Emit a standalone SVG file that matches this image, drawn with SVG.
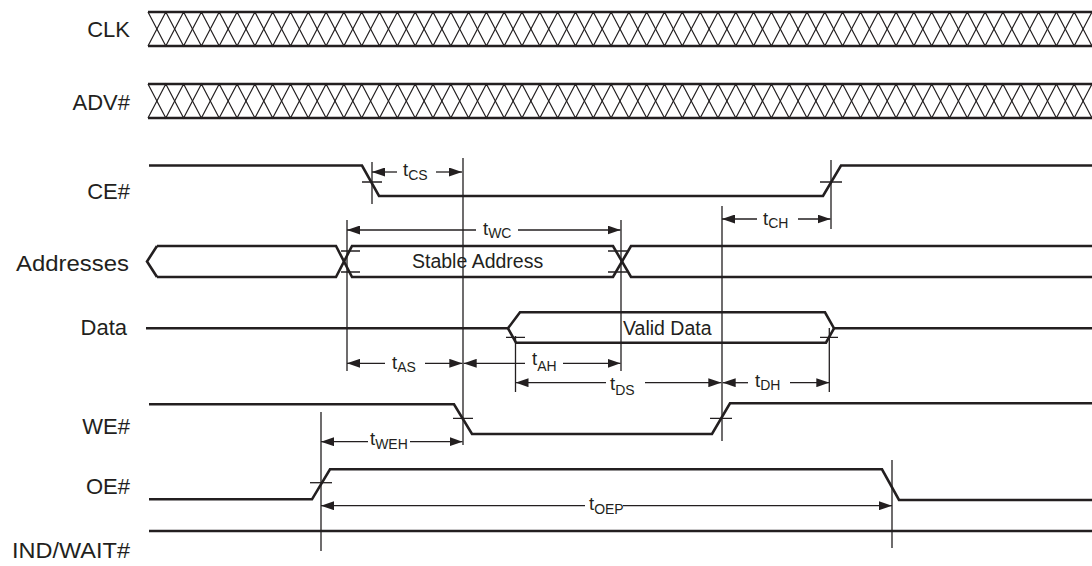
<svg xmlns="http://www.w3.org/2000/svg" xmlns:xlink="http://www.w3.org/1999/xlink" width="1092" height="566" viewBox="0 0 1092 566">
<style>
.sig{fill:none;stroke:#231f20;stroke-width:2.6;stroke-linejoin:miter}
.band{fill:none;stroke:#231f20;stroke-width:2.6}
.zz{fill:none;stroke:#231f20;stroke-width:1.2}
.thin{fill:none;stroke:#231f20;stroke-width:1.3}
.dim{fill:none;stroke:#231f20;stroke-width:1.3;marker-end:url(#ah)}
.lbl{font-family:"Liberation Sans",Arial,Helvetica,sans-serif;font-size:22px;fill:#231f20;text-anchor:end}
.in{font-family:"Liberation Sans",Arial,Helvetica,sans-serif;font-size:19.5px;fill:#231f20}
.t{font-family:"Liberation Sans",Arial,Helvetica,sans-serif;font-size:18.5px;fill:#231f20}
.s{font-size:14px}
</style>
<defs>
<marker id="ah" markerUnits="userSpaceOnUse" markerWidth="13" markerHeight="9" refX="13" refY="4.5" orient="auto">
<path d="M0,0 L13,4.5 L0,9 Z" fill="#231f20"/>
</marker>
<g id="xband">
<path class="band" d="M148,12 H1092 M148,46 H1092"/>
<polyline class="zz" points="148,12 165.8,46 183.6,12 201.4,46 219.2,12 237.1,46 254.9,12 272.7,46 290.5,12 308.3,46 326.1,12 343.9,46 361.7,12 379.5,46 397.4,12 415.2,46 433,12 450.8,46 468.6,12 486.4,46 504.2,12 522,46 539.8,12 557.7,46 575.5,12 593.3,46 611.1,12 628.9,46 646.7,12 664.5,46 682.3,12 700.2,46 718,12 735.8,46 753.6,12 771.4,46 789.2,12 807,46 824.8,12 842.6,46 860.5,12 878.3,46 896.1,12 913.9,46 931.7,12 949.5,46 967.3,12 985.1,46 1002.9,12 1020.8,46 1038.6,12 1056.4,46 1074.2,12 1092,46"/>
<polyline class="zz" points="148,46 165.8,12 183.6,46 201.4,12 219.2,46 237.1,12 254.9,46 272.7,12 290.5,46 308.3,12 326.1,46 343.9,12 361.7,46 379.5,12 397.4,46 415.2,12 433,46 450.8,12 468.6,46 486.4,12 504.2,46 522,12 539.8,46 557.7,12 575.5,46 593.3,12 611.1,46 628.9,12 646.7,46 664.5,12 682.3,46 700.2,12 718,46 735.8,12 753.6,46 771.4,12 789.2,46 807,12 824.8,46 842.6,12 860.5,46 878.3,12 896.1,46 913.9,12 931.7,46 949.5,12 967.3,46 985.1,12 1002.9,46 1020.8,12 1038.6,46 1056.4,12 1074.2,46 1092,12"/>
</g>
</defs>
<rect width="1092" height="566" fill="#ffffff"/>

<g id="clk">
<text class="lbl" x="130" y="37">CLK</text>
<use href="#xband" xlink:href="#xband"/>
</g>

<g id="adv">
<text class="lbl" x="130" y="110">ADV#</text>
<use href="#xband" xlink:href="#xband" transform="translate(0,72)"/>
</g>

<g id="ce">
<text class="lbl" x="130" y="199">CE#</text>
<path class="sig" d="M149,165.5 H362 L379,196 H823 L841,165.5 H1092"/>
<path class="thin" d="M362,182 H382 M820,182 H842"/>
</g>

<g id="addresses">
<text class="lbl" x="129" y="271" textLength="113" lengthAdjust="spacingAndGlyphs">Addresses</text>
<path class="sig" d="M157,246 L147,261.5 L157,277"/>
<path class="sig" d="M157,246 H336 L352,277 H613 L631,246 H1092"/>
<path class="sig" d="M157,277 H336 L352,246 H613 L631,277 H1092"/>
<path class="thin" d="M341,251 H360 M341,272 H360 M608,251 H627 M608,272 H627"/>
<text class="in" x="412" y="268">Stable Address</text>
</g>

<g id="data">
<text class="lbl" x="127" y="335">Data</text>
<path class="sig" d="M146,328.3 H508 L520,312.3 H825 L834,328.3 H1092"/>
<path class="sig" d="M508,328.3 L516,342.7 H826 L834,328.3"/>
<path class="thin" d="M506,337.3 H525 M820,337.3 H838"/>
<text class="in" x="623" y="334.5">Valid Data</text>
</g>

<g id="we">
<text class="lbl" x="130" y="434">WE#</text>
<path class="sig" d="M149,404.3 H454 L472,434 H712 L730,403.3 H1092"/>
<path class="thin" d="M453,418.3 H473 M710,418.3 H732"/>
</g>

<g id="oe">
<text class="lbl" x="130" y="494">OE#</text>
<path class="sig" d="M149,499.3 H312 L330,469.3 H882 L899,500 H1092"/>
<path class="thin" d="M310,482.7 H332"/>
</g>

<g id="indwait">
<text class="lbl" x="130" y="558" textLength="118" lengthAdjust="spacingAndGlyphs">IND/WAIT#</text>
<path class="sig" d="M149,531 H1092"/>
</g>

<g id="connectors">
<path class="thin" d="M372,162 V204 M831,160 V229 M463,158 V445 M722,206 V441 M347,220 V371 M621,220 V371 M515.5,336 V392 M829.3,328 V392 M321,412 V551 M892,460 V548"/>
<line class="dim" x1="397" y1="172" x2="372" y2="172"/>
<line class="dim" x1="436" y1="172" x2="462" y2="172"/>
<line class="dim" x1="476" y1="230" x2="347" y2="230"/>
<line class="dim" x1="518" y1="230" x2="620.5" y2="230"/>
<line class="dim" x1="757" y1="219" x2="722" y2="219"/>
<line class="dim" x1="798" y1="219" x2="830.5" y2="219"/>
<line class="dim" x1="385" y1="363.3" x2="347" y2="363.3"/>
<line class="dim" x1="425" y1="363.3" x2="462.3" y2="363.3"/>
<line class="dim" x1="525" y1="363.3" x2="463.7" y2="363.3"/>
<line class="dim" x1="563" y1="363.3" x2="620.5" y2="363.3"/>
<line class="dim" x1="606" y1="382.7" x2="515.5" y2="382.7"/>
<line class="dim" x1="645" y1="382.7" x2="721.3" y2="382.7"/>
<line class="dim" x1="748" y1="382.7" x2="722.7" y2="382.7"/>
<line class="dim" x1="790" y1="382.7" x2="829.3" y2="382.7"/>
<line class="dim" x1="368" y1="441.7" x2="321" y2="441.7"/>
<line class="dim" x1="410" y1="441.7" x2="462.5" y2="441.7"/>
<line class="dim" x1="585" y1="505.7" x2="321" y2="505.7"/>
<line class="dim" x1="623" y1="505.7" x2="892" y2="505.7"/>
<text class="t" x="403" y="176">t<tspan class="s" dy="4">CS</tspan></text>
<text class="t" x="483" y="235">t<tspan class="s" dy="3">WC</tspan></text>
<text class="t" x="763" y="225">t<tspan class="s" dy="3">CH</tspan></text>
<text class="t" x="392" y="369">t<tspan class="s" dy="3">AS</tspan></text>
<text class="t" x="532" y="365">t<tspan class="s" dy="6">AH</tspan></text>
<text class="t" x="610" y="390">t<tspan class="s" dy="5">DS</tspan></text>
<text class="t" x="755" y="387">t<tspan class="s" dy="3">DH</tspan></text>
<text class="t" x="370" y="445">t<tspan class="s" dy="4">WEH</tspan></text>
<text class="t" x="589" y="510">t<tspan class="s" dy="4">OEP</tspan></text>
</g>
</svg>
